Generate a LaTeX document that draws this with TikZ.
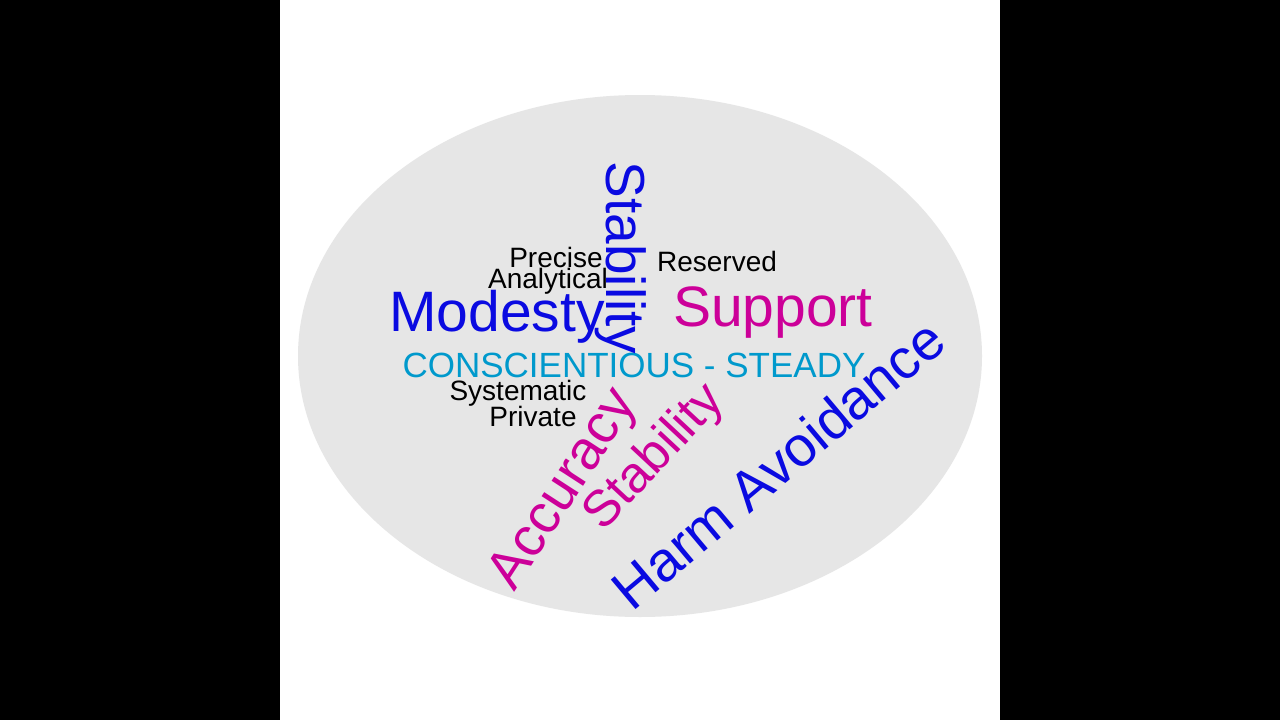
\documentclass[tikz,border=0pt]{standalone}
\usepackage{fontspec}
\setmainfont{Liberation Sans}
\definecolor{wblue}{RGB}{10,10,225}
\definecolor{wmag}{RGB}{204,0,153}
\definecolor{wcyan}{RGB}{0,153,204}
\definecolor{wgray}{RGB}{230,230,230}
\begin{document}
\begin{tikzpicture}[x=1pt,y=-1pt,
  w/.style={inner sep=0pt,anchor=center},
  small/.style={w,font=\fontsize{28}{28}\selectfont,text=black}]
\fill[black] (0,0) rectangle (1280,720);
\fill[white] (280,0) rectangle (1000,720);
\fill[wgray] (640,356) ellipse [x radius=342, y radius=261];
\node[small] (precise) at (556,257) {Precise};
\node[small] (analytical) at (548,281) {Analytical};
\node[small] (reserved) at (717,261) {Reserved};
\node[small] (systematic) at (518,393) {Systematic};
\node[small] (private) at (533,416) {Private};
\node[w,font=\fontsize{57}{57}\selectfont,text=wblue] (modesty) at (497,317) {Modesty};
\node[w,font=\fontsize{57}{57}\selectfont,text=wmag] (support) at (773,313) {Support};
\node[w,font=\fontsize{35}{35}\selectfont,text=wcyan] (cs) at (634,365) {CONSCIENTIOUS - STEADY};
\node[w,font=\fontsize{55}{55}\selectfont,text=wblue,rotate=-90] (stab1) at (621,258) {Stability};
\node[w,font=\fontsize{55}{55}\selectfont,text=wmag,rotate=57] (acc) at (565,490) {Accuracy};
\node[w,font=\fontsize{51}{51}\selectfont,text=wmag,rotate=47] (stab2) at (655,458) {Stability};
\node[w,font=\fontsize{56}{56}\selectfont,text=wblue,rotate=40] (harm) at (778,464) {Harm Avoidance};
\end{tikzpicture}
\end{document}
